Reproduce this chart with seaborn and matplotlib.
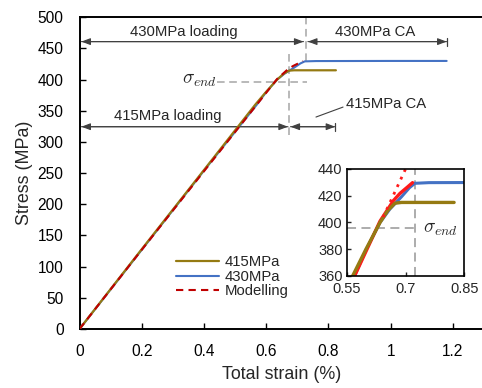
import numpy as np
import pandas as pd
import matplotlib
matplotlib.use("Agg")
import matplotlib.pyplot as plt
import seaborn as sns

# ---------------- data ----------------
strain_415 = [0, 0.2, 0.4, 0.565, 0.599, 0.635, 0.655, 0.673, 0.69, 0.75, 0.824]
stress_415 = [0, 128, 255, 360, 380, 400, 409, 414.4, 415, 415, 415]

strain_430 = [0, 0.2, 0.4, 0.57, 0.60, 0.635, 0.66, 0.69, 0.71, 0.724, 0.76, 1.0, 1.18]
stress_430 = [0, 127, 254, 360, 380, 400, 410, 419.3, 426, 429.3, 429.8, 430, 430]

strain_model = [0, 0.2, 0.4, 0.57, 0.635, 0.669, 0.686, 0.705, 0.718]
stress_model = [0, 127, 253, 360, 401, 416.3, 421.8, 426.5, 429.8]

strain_elastic = [0.643, 0.72]
stress_elastic = [404, 452.5]

series_labels = ["415MPa", "430MPa", "Modelling"]
colors = {"415MPa": "#957a12", "430MPa": "#4472c4", "Modelling": "#c00000"}

x_ticks = [0, 0.2, 0.4, 0.6, 0.8, 1.0, 1.2]
x_tick_labels = ["0", "0.2", "0.4", "0.6", "0.8", "1", "1.2"]
y_ticks = list(range(0, 501, 50))
inset_x_ticks = [0.55, 0.7, 0.85]
inset_x_labels = ["0.55", "0.7", "0.85"]
inset_y_ticks = [360, 380, 400, 420, 440]

sigma_end = 396
strain_end_430 = 0.727
strain_end_415 = 0.674
ca_end_430 = 1.18
ca_end_415 = 0.822

df = pd.concat([
    pd.DataFrame({"strain": strain_415, "stress": stress_415, "series": "415MPa"}),
    pd.DataFrame({"strain": strain_430, "stress": stress_430, "series": "430MPa"}),
    pd.DataFrame({"strain": strain_model, "stress": stress_model, "series": "Modelling"}),
])

# ---------------- style ----------------
sns.set_theme(style="ticks")
plt.rcParams["font.family"] = ["Liberation Sans", "DejaVu Sans"]
plt.rcParams["mathtext.fontset"] = "cm"

W, H = 482, 388
fig = plt.figure(figsize=(W / 100, H / 100), dpi=100)
ax = fig.add_axes([79.5 / W, 59 / H, (484 - 79.5) / W, 311.7 / H])

sub = lambda s: df[df.series == s]
sns.lineplot(data=sub("430MPa"), x="strain", y="stress", ax=ax, color=colors["430MPa"],
             lw=1.5, sort=False, estimator=None, label="430MPa", zorder=3)
sns.lineplot(data=sub("415MPa"), x="strain", y="stress", ax=ax, color=colors["415MPa"],
             lw=1.6, sort=False, estimator=None, label="415MPa", zorder=4)
sns.lineplot(data=sub("Modelling"), x="strain", y="stress", ax=ax, color=colors["Modelling"],
             lw=1.5, sort=False, estimator=None, label="Modelling", zorder=5)
ax.lines[-1].set_dashes([3.5, 2.5])

ax.set_xlim(0, 1.3)
ax.set_ylim(0, 500)
ax.set_xticks(x_ticks)
ax.set_xticklabels(x_tick_labels)
ax.set_yticks(y_ticks)
ax.tick_params(direction="in", length=4, width=1, labelsize=11.2, colors="black")
ax.tick_params(axis="x", pad=11)
ax.tick_params(axis="y", pad=11.5)
ax.set_xlabel("Total strain (%)", fontsize=12.9, labelpad=5)
ax.set_ylabel("Stress (MPa)", fontsize=12.9, labelpad=3)
for s in ["left", "bottom", "top"]:
    ax.spines[s].set_color("black")
    ax.spines[s].set_linewidth(1.4)
ax.spines["right"].set_visible(False)

# legend
handles, labels = ax.get_legend_handles_labels()
order = [labels.index(l) for l in series_labels]
leg = ax.legend([handles[i] for i in order], [labels[i] for i in order],
                loc="upper left", bbox_to_anchor=(176 / W, 1 - 255 / H),
                bbox_transform=fig.transFigure, frameon=False, fontsize=10.7,
                handlelength=2.9, handletextpad=0.4, labelspacing=0.05,
                borderpad=0, borderaxespad=0)

# dashed guide lines
gcol = "#a6a6a6"
ax.plot([strain_end_430, strain_end_430], [430, 500], color=gcol, lw=1.1, dashes=[5, 3], zorder=2)
ax.plot([strain_end_415, strain_end_415], [311, 443], color=gcol, lw=1.1, dashes=[5, 3], zorder=2)
ax.plot([0.441, 0.73], [sigma_end + 1, sigma_end + 1], color=gcol, lw=1.1, dashes=[5, 3], zorder=2)
ax.text(0.328, sigma_end + 3, r"$\sigma_{end}$", fontsize=14, ha="left", va="center")

# dimension arrows
acol = "#404040"
aprops = dict(arrowstyle="-|>,head_length=0.45,head_width=0.17", color=acol, lw=0.8,
              shrinkA=0, shrinkB=0)

def dim_arrow(x0, x1, y):
    ax.annotate("", xy=(x1, y), xytext=(x0, y), arrowprops=aprops)
    ax.annotate("", xy=(x0, y), xytext=(x1, y), arrowprops=aprops)

y430, y415 = 461, 324.5
dim_arrow(0.006, strain_end_430 - 0.007, y430)
dim_arrow(strain_end_430 + 0.007, ca_end_430, y430)
ax.plot([ca_end_430, ca_end_430], [y430 - 6.5, y430 + 6.5], color=acol, lw=0.9)
dim_arrow(0.006, strain_end_415 - 0.004, y415)
dim_arrow(strain_end_415 + 0.004, ca_end_415, y415)
ax.plot([ca_end_415, ca_end_415], [y415 - 6.5, y415 + 6.5], color=acol, lw=0.9)

fs_a = 10.7
ax.text(0.335, 476, "430MPa loading", fontsize=fs_a, ha="center", va="center")
ax.text(0.951, 476, "430MPa CA", fontsize=fs_a, ha="center", va="center")
ax.text(0.284, 341, "415MPa loading", fontsize=fs_a, ha="center", va="center")
ax.text(0.858, 361, "415MPa CA", fontsize=fs_a, ha="left", va="center")
ax.plot([0.76, 0.847], [340, 356], color=acol, lw=0.8)

# ---------------- inset ----------------
ins = fig.add_axes([346.7 / W, (H - 276) / H, 117.6 / W, 107 / H])
sns.lineplot(data=sub("430MPa"), x="strain", y="stress", ax=ins, color=colors["430MPa"],
             lw=2.2, sort=False, estimator=None, legend=False)
sns.lineplot(data=sub("Modelling"), x="strain", y="stress", ax=ins, color="#ff1a1a",
             lw=2.4, sort=False, estimator=None, legend=False)
sns.lineplot(data=sub("415MPa"), x="strain", y="stress", ax=ins, color=colors["415MPa"],
             lw=2.4, sort=False, estimator=None, legend=False)
sns.lineplot(x=strain_elastic, y=stress_elastic, ax=ins, color="#ff1a1a", lw=2.0,
             legend=False)
ins.lines[-1].set_dashes([1, 2])
ins.plot([0.55, 0.724], [sigma_end, sigma_end], color=gcol, lw=1.3, dashes=[5, 3], zorder=1)
ins.plot([0.724, 0.724], [360, 440], color=gcol, lw=1.3, dashes=[5, 3], zorder=1)
ins.text(0.745, sigma_end - 1, r"$\sigma_{end}$", fontsize=14, ha="left", va="center")
ins.set_xlim(0.55, 0.85)
ins.set_ylim(360, 440)
ins.set_xticks(inset_x_ticks)
ins.set_xticklabels(inset_x_labels)
ins.set_yticks(inset_y_ticks)
ins.set_xlabel("")
ins.set_ylabel("")
ins.tick_params(direction="in", length=3, width=1, labelsize=10.5, pad=3)
ins.tick_params(axis="x", pad=4.5)
for s in ins.spines.values():
    s.set_color("black")
    s.set_linewidth(1.2)

fig.savefig("out.png", dpi=100)
